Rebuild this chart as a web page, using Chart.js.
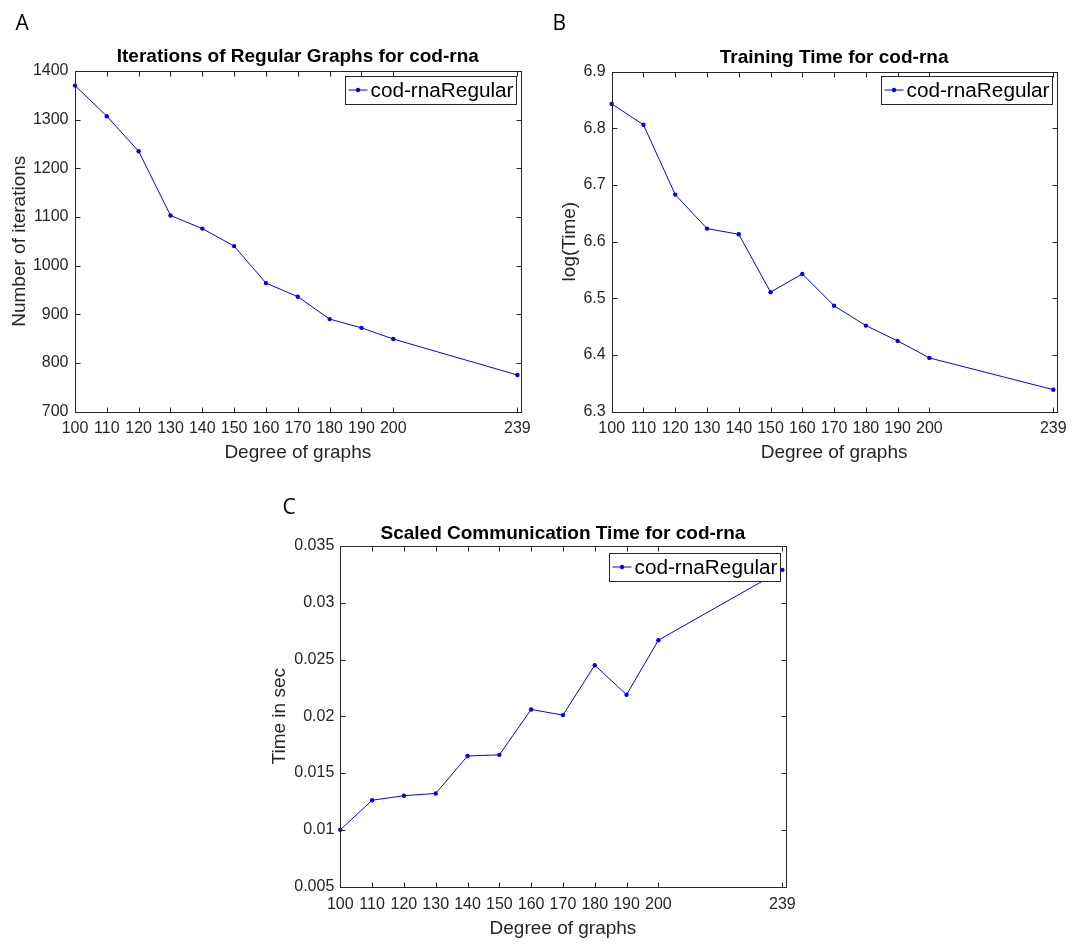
<!DOCTYPE html>
<html><head><meta charset="utf-8">
<script src="https://cdn.jsdelivr.net/npm/chart.js@4"></script>
<style>
html,body{margin:0;padding:0;background:#fff;}
body{width:1081px;height:944px;position:relative;overflow:hidden;}
canvas{position:absolute;}
</style></head><body>
<canvas id="cA" width="540" height="470" style="left:0;top:0;width:540px;height:470px"></canvas>
<canvas id="cB" width="541" height="470" style="left:540px;top:0;width:541px;height:470px"></canvas>
<canvas id="cC" width="560" height="454" style="left:260px;top:490px;width:560px;height:454px"></canvas>
<script>
// ---- data ----
const degrees = [100, 110, 120, 130, 140, 150, 160, 170, 180, 190, 200, 239];
const xTickValues = [100, 110, 120, 130, 140, 150, 160, 170, 180, 190, 200, 239];
const iterations = [1370, 1307, 1235, 1103, 1076, 1040, 964, 936, 890, 872, 849, 775];
const logTime = [6.843, 6.806, 6.683, 6.623, 6.613, 6.511, 6.543, 6.487, 6.452, 6.425, 6.395, 6.339];
const commTime = [0.0100, 0.0126, 0.0130, 0.0132, 0.0165, 0.0166, 0.0206, 0.0201, 0.0245, 0.0219, 0.0267, 0.0329];
const seriesName = 'cod-rnaRegular';
const xAxisLabel = 'Degree of graphs';

const FAM = "'Liberation Sans', Arial, Helvetica, sans-serif";
const AX = '#262626';

const matlabPlugin = {
  id: 'matlab',
  afterDraw(chart) {
    const o = chart.options.plugins.matlab;
    const {ctx, chartArea: a, scales: {x, y}} = chart;
    ctx.save();
    // frame
    ctx.strokeStyle = AX; ctx.lineWidth = 1;
    const L = Math.round(a.left) + 0.5, R = Math.round(a.right) + 0.5;
    const T = Math.round(a.top) + 0.5, B = Math.round(a.bottom) + 0.5;
    ctx.strokeRect(L, T, R - L, B - T);
    const tl = 5;
    ctx.beginPath();
    x.ticks.forEach(t => {
      const px = Math.round(x.getPixelForValue(t.value)) + 0.5;
      ctx.moveTo(px, B); ctx.lineTo(px, B - tl);
      ctx.moveTo(px, T); ctx.lineTo(px, T + tl);
    });
    y.ticks.forEach(t => {
      const py = Math.round(y.getPixelForValue(t.value)) + 0.5;
      ctx.moveTo(L, py); ctx.lineTo(L + tl, py);
      ctx.moveTo(R, py); ctx.lineTo(R - tl, py);
    });
    ctx.stroke();
    // title
    ctx.fillStyle = '#000';
    ctx.font = 'bold 19px ' + FAM;
    ctx.textAlign = 'center'; ctx.textBaseline = 'middle';
    ctx.fillText(o.title, (a.left + a.right) / 2, a.top - o.titleOff);
    // legend
    ctx.font = '20.75px ' + FAM;
    const tw = ctx.measureText(seriesName).width;
    const bw = Math.round(tw + 28), bh = 28;
    const bx = Math.round(a.right - o.lgGap - bw) + 0.5, by = Math.round(a.top + o.lgTop) + 0.5;
    ctx.fillStyle = '#fff'; ctx.fillRect(bx, by, bw, bh);
    ctx.strokeStyle = AX; ctx.lineWidth = 1; ctx.strokeRect(bx, by, bw, bh);
    const cy = by + bh / 2 - 0.5;
    ctx.strokeStyle = '#0000ff'; ctx.beginPath();
    ctx.moveTo(bx + 3, cy); ctx.lineTo(bx + 22, cy); ctx.stroke();
    ctx.fillStyle = '#0000ff'; ctx.beginPath(); ctx.arc(bx + 12.5, cy, 2.2, 0, Math.PI * 2); ctx.fill();
    ctx.fillStyle = '#000'; ctx.textAlign = 'left'; ctx.textBaseline = 'middle';
    ctx.fillText(seriesName, bx + 25, cy + 1);
    // panel letter
    ctx.font = "21px 'Open Sans', 'Noto Sans', sans-serif";
    ctx.textBaseline = 'alphabetic';
    ctx.fillText(o.letter, o.lx, o.ly);
    ctx.restore();
  }
};

function panel(p) {
  return new Chart(document.getElementById(p.id), {
    type: 'line',
    data: {
      datasets: [{
        label: seriesName,
        data: degrees.map((d, i) => ({x: d, y: p.values[i]})),
        borderColor: '#0000ff', backgroundColor: '#0000ff',
        borderWidth: 1, pointRadius: 2.2, pointBorderWidth: 0,
        pointBackgroundColor: '#0000ff', tension: 0, clip: false
      }]
    },
    options: {
      responsive: false, animation: false, devicePixelRatio: 1,
      layout: {padding: {left: 0, top: p.pt, right: p.pr, bottom: 0}},
      plugins: {
        legend: {display: false}, tooltip: {enabled: false}, title: {display: false},
        matlab: {title: p.title, letter: p.letter, lx: p.lx, ly: p.ly, lgGap: p.lgGap,
                 lgTop: p.lgTop, titleOff: p.titleOff}
      },
      scales: {
        x: {
          type: 'linear', min: 100, max: 240,
          afterBuildTicks: s => { s.ticks = xTickValues.map(v => ({value: v})); },
          afterFit: s => { s.height = p.xh; },
          grid: {display: false, drawTicks: false}, border: {display: false},
          ticks: {autoSkip: false, maxRotation: 0, minRotation: 0, padding: p.xtp, color: AX,
                  font: {family: FAM, size: 16}, callback: v => String(v)},
          title: {display: true, text: xAxisLabel, color: AX, font: {family: FAM, size: 19},
                  padding: {top: 0, bottom: p.xtb}}
        },
        y: {
          type: 'linear', min: p.ymin, max: p.ymax,
          afterFit: s => { s.width = p.yw; },
          grid: {display: false, drawTicks: false}, border: {display: false},
          ticks: {stepSize: p.step, padding: p.ytkp, color: AX, font: {family: FAM, size: 16},
                  callback: v => String(+(+v).toFixed(p.dec))},
          title: {display: true, text: p.yLabel, color: AX, font: {family: FAM, size: 19},
                  padding: {top: p.ytp, bottom: 0}}
        }
      }
    },
    plugins: [matlabPlugin]
  });
}

panel({id: 'cA', values: iterations, title: 'Iterations of Regular Graphs for cod-rna',
  yLabel: 'Number of iterations', ymin: 700, ymax: 1400, step: 100, dec: 0,
  pt: 71, pr: 19.4, xh: 58.5, yw: 75, xtp: 7, xtb: 6, ytkp: 6.5, ytp: 8,
  letter: 'A', lx: 15.5, ly: 29.5, lgGap: 5, lgTop: 5, titleOff: 14});
panel({id: 'cB', values: logTime, title: 'Training Time for cod-rna',
  yLabel: 'log(Time)', ymin: 6.3, ymax: 6.9, step: 0.1, dec: 1,
  pt: 71.5, pr: 24.5, xh: 58.2, yw: 71.7, xtp: 7, xtb: 6, ytkp: 6, ytp: 18,
  letter: 'B', lx: 12.5, ly: 29.5, lgGap: 5, lgTop: 4.5, titleOff: 14});
panel({id: 'cC', values: commTime, title: 'Scaled Communication Time for cod-rna',
  yLabel: 'Time in sec', ymin: 0.005, ymax: 0.035, step: 0.005, dec: 3,
  pt: 56, pr: 34.4, xh: 57.5, yw: 80.3, xtp: 8.5, xtb: 4, ytkp: 6, ytp: 8,
  letter: 'C', lx: 22.5, ly: 24, lgGap: 5.5, lgTop: 6.5, titleOff: 12.5});
</script>
</body></html>
